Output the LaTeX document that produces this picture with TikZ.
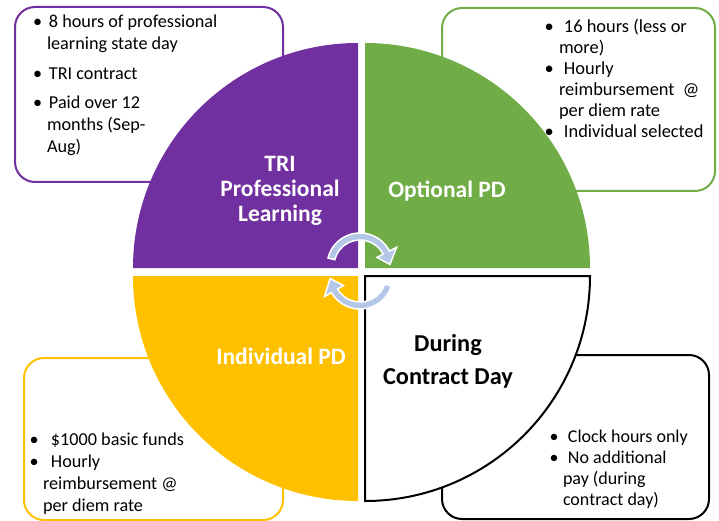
\documentclass[tikz,border=0pt]{standalone}
\usepackage{fontspec}
\setmainfont{Carlito}
\definecolor{tripurple}{HTML}{7030A0}
\definecolor{optgreen}{HTML}{70AD47}
\definecolor{indgold}{HTML}{FFC000}
\definecolor{cycleblue}{HTML}{B4C7E7}

\begin{document}
\begin{tikzpicture}[x=1pt,y=-1pt]
	\tikzstyle{every path}=[line width=2pt]
	
	\def\dotitem#1{\makebox[#1][l]{\textbullet}}
	\tikzstyle{infobox}=[draw,rounded corners=20pt,fill=white,anchor=north west,inner sep=0pt]
	\tikzstyle{infotext}=[align=left,anchor=base west,inner sep=0pt,
	font=\fontsize{18.2}{22}\selectfont]
	\tikzstyle{quartlabel}=[align=center,anchor=base,inner sep=0pt,text=white,
	font=\fontsize{23.5}{25}\selectfont\bfseries]
	\tikzstyle{cyclearrow}=[fill=cycleblue,draw=white,line width=1.5pt]
	
	\useasboundingbox (0,0) rectangle (719,521);
	
	%% Text boxes behind the circle
	\node [infobox,draw=tripurple,minimum width=268pt,minimum height=175pt] (tribox) at (14,6) {};
	\node [infobox,draw=optgreen,minimum width=273pt,minimum height=183pt] (optbox) at (441,7) {};
	\node [infobox,draw=indgold,minimum width=259pt,minimum height=162pt] (indbox) at (23,357) {};
	\node [infobox,draw=black,minimum width=267pt,minimum height=164pt] (durbox) at (441,354) {};
	
	%% Four quarters
	\fill [tripurple] (358,268) -- (133,268) arc[start angle=180,end angle=270,radius=225] -- cycle;
	\fill [optgreen] (365,268) -- (365,43) arc[start angle=270,end angle=360,radius=225] -- cycle;
	\fill [indgold] (358,276) -- (358,501) arc[start angle=90,end angle=180,radius=225] -- cycle;
	\filldraw [fill=white,draw=black] (365,276) -- (590,276) arc[start angle=0,end angle=90,radius=225] -- cycle;
	
	%% Cycle arrows
	\begin{scope}[shift={(360,266)}]
		\path [cyclearrow] (194:33) arc[start angle=194,end angle=333,radius=33]
		-- (333:41) -- (357:30) -- (333:19) -- (333:26)
		arc[start angle=333,end angle=194,radius=26] -- cycle;
	\end{scope}
	\begin{scope}[shift={(360,276)}]
		\path [cyclearrow] (18:33) arc[start angle=18,end angle=150,radius=33]
		-- (150:41) -- (175:30) -- (150:19) -- (150:26)
		arc[start angle=150,end angle=18,radius=26] -- cycle;
	\end{scope}
	
	%% Quarter labels (placed at the baseline of their last line)
	\node [quartlabel] (trilabel) at (280,222) {TRI\\Professional\\Learning};
	\node [quartlabel] (optlabel) at (447,197) {Optional PD};
	\node [quartlabel] (indlabel) at (281,364) {Individual PD};
	\node [quartlabel,text=black,font=\fontsize{24.3}{33}\selectfont\bfseries] (durlabel) at (448,384) {During\\Contract Day};
	
	%% Box texts (placed at the baseline of their last line)
	\node [infotext] (tritext) at (32,153) {\dotitem{16pt}8 hours of professional\\
		\hspace{14pt}learning state day\\[7.5pt]
		\dotitem{16pt}TRI contract\\[7.5pt]
		\dotitem{16pt}Paid over 12\\
		\hspace{14pt}months (Sep-\\
		\hspace{14pt}Aug)};
	\node [infotext,font=\fontsize{18.4}{21}\selectfont] (opttext) at (543.5,138) {\dotitem{19.5pt}16 hours (less or\\
		\hspace{14.5pt}more)\\
		\dotitem{19.5pt}Hourly\\
		\hspace{14.5pt}reimbursement~ @\\
		\hspace{14.5pt}per diem rate\\
		\dotitem{19.5pt}Individual selected};
	\node [infotext] (indtext) at (28.5,511) {\dotitem{21.5pt}\$1000 basic funds\\
		\dotitem{21.5pt}Hourly\\
		\hspace{13.5pt}reimbursement @\\
		\hspace{13.5pt}per diem rate};
	\node [infotext,font=\fontsize{18}{20.7}\selectfont] (durtext) at (548.5,505) {\dotitem{18.5pt}Clock hours only\\
		\dotitem{18.5pt}No additional\\
		\hspace{13.5pt}pay (during\\
		\hspace{13.5pt}contract day)};
\end{tikzpicture}
\end{document}
